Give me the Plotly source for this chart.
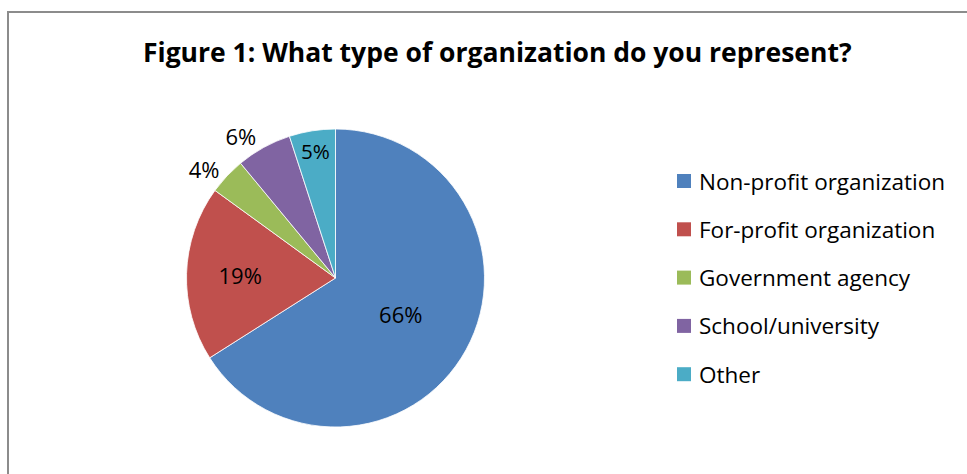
import plotly.graph_objects as go

categories = ["Non-profit organization", "For-profit organization", "Government agency",
              "School/university", "Other"]
values = [66, 19, 4, 6, 5]
colors = ["#4F81BD", "#C0504D", "#9BBB59", "#8064A2", "#4BACC6"]
label_pos = ["inside", "inside", "outside", "outside", "inside"]
title_text = "Figure 1: What type of organization do you represent?"

W, H = 967, 474
FONT = "'Open Sans', Lato, sans-serif"

def px(x):
    return x / W

def py(y):
    return 1 - y / H

cx, cy, r = 335.5, 278, 149

fig = go.Figure(go.Pie(
    labels=categories,
    values=values,
    sort=False,
    direction="clockwise",
    rotation=0,
    textinfo="percent",
    textposition=label_pos,
    insidetextorientation="horizontal",
    textfont=dict(family=FONT, size=22, color="black"),
    marker=dict(colors=colors, line=dict(color="white", width=0.8)),
    domain=dict(x=[px(cx - r), px(cx + r)], y=[py(cy + r), py(cy - r)]),
    showlegend=False,
    hoverinfo="label+percent",
))

shapes = [dict(type="rect", xref="paper", yref="paper",
               x0=px(8), x1=1.05, y0=-0.05, y1=py(12),
               line=dict(color="#8C8C8C", width=2), fillcolor="rgba(0,0,0,0)")]
annotations = [dict(text="<b>" + title_text + "</b>", xref="paper", yref="paper",
                    x=px(497), y=py(52), xanchor="center", yanchor="middle",
                    showarrow=False, font=dict(family=FONT, size=26.5, color="black"))]

# legend drawn at fixed spacing
leg_x, leg_y0, leg_dy, sq = 677, 181, 48.3, 14
for i, (cat, col) in enumerate(zip(categories, colors)):
    yc = leg_y0 + i * leg_dy
    shapes.append(dict(type="rect", xref="paper", yref="paper",
                       x0=px(leg_x), x1=px(leg_x + sq), y0=py(yc + sq / 2), y1=py(yc - sq / 2),
                       line=dict(width=0), fillcolor=col))
    annotations.append(dict(text=cat, xref="paper", yref="paper",
                            x=px(leg_x + 20), y=py(yc), xanchor="left", yanchor="middle",
                            showarrow=False, font=dict(family=FONT, size=22.5, color="black")))

fig.update_layout(
    width=W, height=H,
    margin=dict(l=0, r=0, t=0, b=0),
    paper_bgcolor="white", plot_bgcolor="white",
    shapes=shapes, annotations=annotations,
)

fig.write_html("out.html", config={"displayModeBar": False},
               post_script="document.body.style.margin='0px';")
